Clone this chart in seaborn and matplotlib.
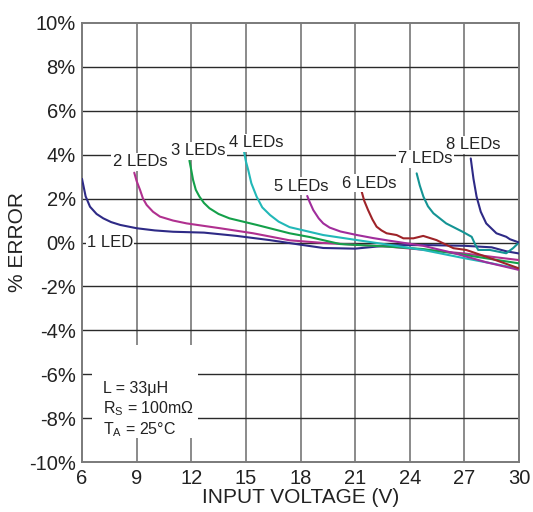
import matplotlib
matplotlib.use("Agg")
import matplotlib.pyplot as plt
import seaborn as sns
import pandas as pd

# ---------------- data ----------------
led1_x = [6.0, 6.2, 6.44, 6.8, 7.17, 7.6, 8.1, 9.0, 10.0, 11.0, 12.7, 14.5, 16.3, 18.0, 19.25, 21.0, 23.0, 25.0, 27.0, 28.5, 29.3, 30.0]
led1_y = [2.9, 2.1, 1.63, 1.3, 1.1, 0.93, 0.8, 0.65, 0.55, 0.49, 0.45, 0.3, 0.11, -0.1, -0.25, -0.28, -0.12, -0.12, -0.15, -0.22, -0.4, -0.5]

led2_x = [8.87, 9.0, 9.19, 9.35, 9.55, 9.9, 10.28, 11.0, 11.75, 13.58, 15.4, 17.4, 19.25, 21.0, 23.0, 25.0, 27.0, 28.5, 30.0]
led2_y = [3.18, 2.8, 2.39, 2.0, 1.71, 1.4, 1.18, 1.0, 0.87, 0.65, 0.42, 0.1, -0.02, -0.1, -0.2, -0.35, -0.5, -0.65, -0.8]

led3_x = [11.9, 12.0, 12.1, 12.25, 12.45, 12.7, 13.0, 13.5, 14.1, 15.6, 17.4, 18.5, 20.17, 22.9, 24.74, 26.5, 28.2, 30.0]
led3_y = [3.73, 3.3, 2.85, 2.4, 2.09, 1.8, 1.56, 1.3, 1.1, 0.8, 0.42, 0.25, -0.07, -0.19, -0.3, -0.5, -0.72, -0.95]

led4_x = [14.9, 15.0, 15.13, 15.3, 15.59, 15.9, 16.33, 16.8, 17.4, 19.25, 21.1, 22.9, 24.74, 26.9, 28.5, 30.0]
led4_y = [4.14, 3.7, 3.3, 2.7, 2.09, 1.6, 1.25, 0.95, 0.7, 0.34, 0.11, -0.11, -0.34, -0.7, -0.95, -1.2]

led5_x = [18.37, 18.5, 18.7, 19.0, 19.25, 19.6, 20.2, 21.1, 22.0, 22.9, 24.74, 26.5, 28.2, 30.0]
led5_y = [2.12, 1.85, 1.48, 1.1, 0.87, 0.68, 0.5, 0.34, 0.2, 0.08, -0.15, -0.5, -0.9, -1.25]

led6_x = [21.36, 21.5, 21.71, 21.95, 22.18, 22.45, 22.73, 23.28, 23.65, 24.2, 24.74, 25.47, 26.4, 27.1, 28.2, 28.95, 30.0]
led6_y = [2.32, 1.9, 1.48, 1.05, 0.72, 0.55, 0.42, 0.34, 0.19, 0.19, 0.30, 0.11, -0.26, -0.34, -0.65, -0.87, -1.18]

led7_x = [24.38, 24.55, 24.75, 25.0, 25.3, 26.0, 26.9, 27.4, 27.6, 27.76, 28.4, 29.3, 29.67, 30.0]
led7_y = [3.15, 2.6, 2.09, 1.65, 1.33, 0.87, 0.49, 0.26, -0.1, -0.34, -0.34, -0.49, -0.26, 0.0]

led8_x = [27.35, 27.5, 27.67, 27.9, 28.2, 28.76, 29.3, 29.5, 30.0]
led8_y = [3.83, 2.9, 2.09, 1.4, 0.87, 0.42, 0.26, 0.15, 0.0]

series_names = ["1 LED", "2 LEDs", "3 LEDs", "4 LEDs", "5 LEDs", "6 LEDs", "7 LEDs", "8 LEDs"]
series_x = [led1_x, led2_x, led3_x, led4_x, led5_x, led6_x, led7_x, led8_x]
series_y = [led1_y, led2_y, led3_y, led4_y, led5_y, led6_y, led7_y, led8_y]
series_colors = ["#2e2a86", "#b0308f", "#14a04a", "#22b8b8", "#a02d9c", "#9e2328", "#149494", "#2e2a86"]

label_x = [7.54, 9.19, 12.37, 15.56, 18.03, 21.76, 24.84, 27.47]
label_y = [0.02, 3.67, 4.17, 4.54, 2.57, 2.71, 3.81, 4.45]

x_ticks = [6, 9, 12, 15, 18, 21, 24, 27, 30]
y_ticks = [-10, -8, -6, -4, -2, 0, 2, 4, 6, 8, 10]
y_ticklabels = [f"{v}%" for v in y_ticks]

note_lines = ["L = 33μH", "R$_\\mathregular{S}$ = 100mΩ", "T$_\\mathregular{A}$ = 25°C"]
note_y = [-6.67, -7.58, -8.54]

# ---------------- plot ----------------
sns.set_style("white")
plt.rcParams["font.family"] = ["Liberation Sans", "DejaVu Sans"]
plt.rcParams["mathtext.fontset"] = "custom"
plt.rcParams["mathtext.rm"] = "Liberation Sans"

fig = plt.figure(figsize=(5.33, 5.12), dpi=100)
ax = fig.add_axes([82 / 533, 50 / 512, 437 / 533, 439 / 512])

for name, xs, ys, c in zip(series_names, series_x, series_y, series_colors):
    df = pd.DataFrame({"x": xs, "y": ys})
    sns.lineplot(data=df, x="x", y="y", ax=ax, color=c, linewidth=1.5,
                 sort=False, estimator=None, zorder=3)

ax.set_xlim(6, 30)
ax.set_ylim(-10, 10)
ax.set_xticks(x_ticks)
ax.set_xticklabels([str(v) for v in x_ticks], fontsize=14.5, color="#222222")
ax.set_yticks(y_ticks)
ax.set_yticklabels(y_ticklabels, fontsize=14.5, color="#222222")
ax.tick_params(axis="x", length=0, pad=5)
ax.tick_params(axis="y", length=0, pad=4.5)

for v in x_ticks[1:-1]:
    ax.axvline(v, color="#8a8a8a", linewidth=1.4, zorder=1)
for v in y_ticks[1:-1]:
    ax.axhline(v, color="#2a2a2a", linewidth=1.0, zorder=1)

for s in ax.spines.values():
    s.set_color("#7a7a7a")
    s.set_linewidth(1.4)

ax.set_xlabel("INPUT VOLTAGE (V)", fontsize=15, color="#222222", labelpad=0)
ax.set_ylabel("% ERROR", fontsize=15, color="#222222", labelpad=1)

for name, lx, ly in zip(series_names, label_x, label_y):
    ax.text(lx, ly, name, fontsize=12, color="#222222", ha="center", va="center", zorder=4,
            bbox=dict(facecolor="white", edgecolor="none", pad=1.0))

ax.add_patch(plt.Rectangle((6.55, -8.9), 5.8, 4.25, facecolor="white", edgecolor="none", zorder=2))
for t, yy in zip(note_lines, note_y):
    ax.text(7.15, yy, t, fontsize=11.5, color="#222222", ha="left", va="center", zorder=4)

fig.savefig("out.png", dpi=100)
